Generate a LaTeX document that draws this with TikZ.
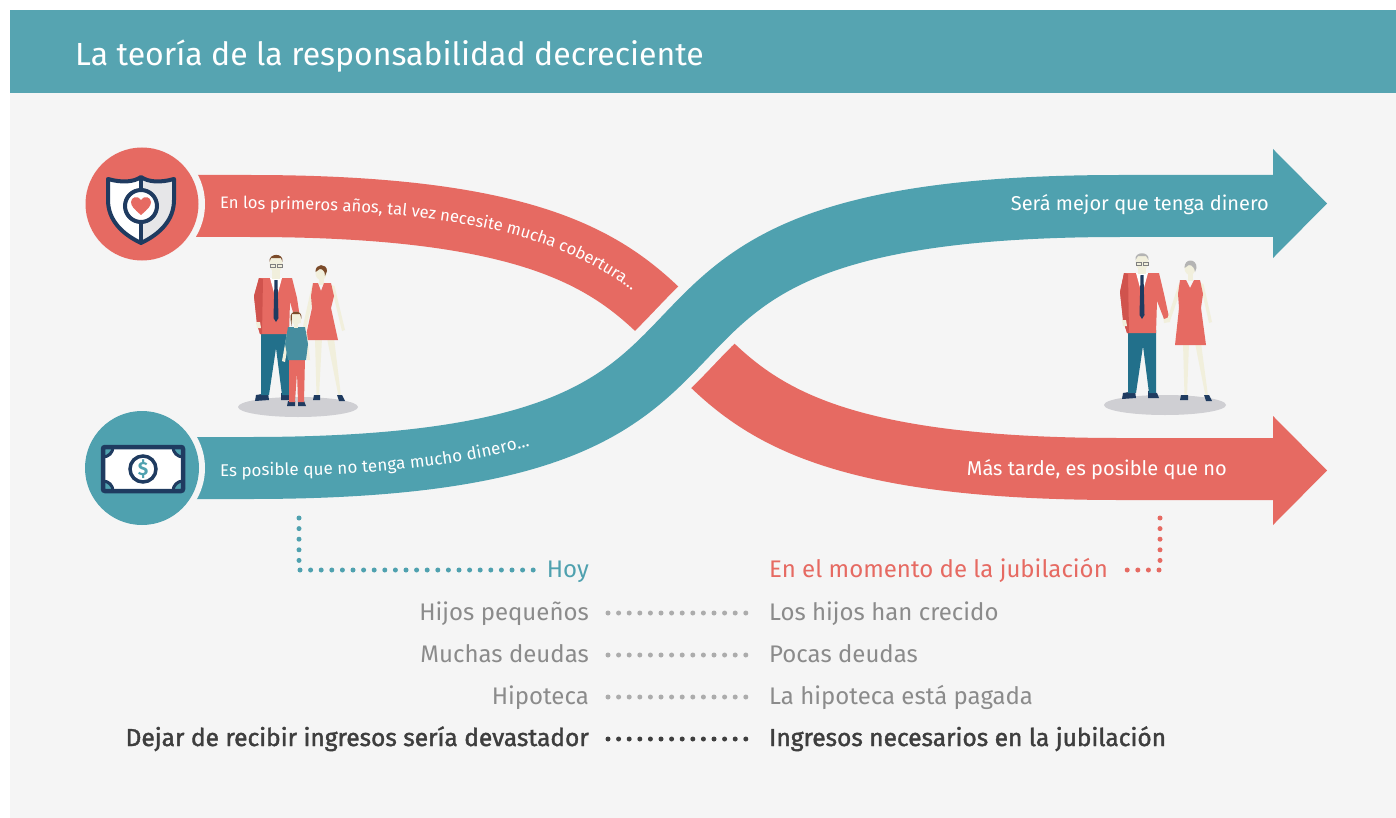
\documentclass[tikz,border=0pt]{standalone}
\usepackage{fontspec}
\setmainfont{Fira Sans}
\newfontfamily\semib[FakeBold=1.6]{Fira Sans}
\usetikzlibrary{decorations.text}
\definecolor{bgc}{HTML}{F5F5F5}
\definecolor{headc}{HTML}{56A4B1}
\definecolor{tealc}{HTML}{4FA1AF}
\definecolor{coralc}{HTML}{E66A62}
\definecolor{navyc}{HTML}{1F3B60}
\definecolor{graytxt}{HTML}{8B8B8B}
\definecolor{darktxt}{HTML}{3E3E3E}
\definecolor{dotgray}{HTML}{ACACAC}
\definecolor{skinc}{HTML}{F1EFDC}
\definecolor{hairc}{HTML}{7B4B2A}
\definecolor{greyhair}{HTML}{B4B4B4}
\definecolor{shadowc}{HTML}{CFCFD3}
\definecolor{trouserc}{HTML}{22708B}
\definecolor{darkcoral}{HTML}{D0534D}
\definecolor{shieldg}{HTML}{E6E6E8}
\tikzset{
  band/.style={line width=62pt},
  dotline/.style={line width=5pt, line cap=round, dash pattern=on 0pt off 10.6pt},
  lefttxt/.style={anchor=base east, inner sep=0pt, text=graytxt, font=\fontsize{24}{28}\selectfont},
  righttxt/.style={anchor=base west, inner sep=0pt, text=graytxt, font=\fontsize{24}{28}\selectfont},
  boldtxt/.style={text=darktxt, font=\fontsize{24.5}{28}\semib},
  arrowtxt/.style={anchor=base east, inner sep=0pt, text=white, font=\fontsize{20}{24}\selectfont},
}
\begin{document}
\begin{tikzpicture}[x=1pt,y=-1pt]
\useasboundingbox (0,0) rectangle (1396,818);
\fill[white] (0,0) rectangle (1396,818);
\fill[bgc] (10,93) rectangle (1396,818);
\fill[headc] (10,10) rectangle (1396,93);
\node[anchor=base west, inner sep=0pt, text=white, font=\fontsize{32}{36}\selectfont] (title) at (75,66) {La teoría de la responsabilidad decreciente};

% red band
\draw[coralc, band] (185,206) -- (250,206) .. controls (870,206) and (500,469) .. (1120,469) -- (1274,469);
\fill[coralc] (1273,416) -- (1327,470.5) -- (1273,525) -- cycle;
% teal band with gap border
\draw[bgc, line width=80pt] (185,468) -- (250,468) .. controls (870,468) and (500,206) .. (1120,206) -- (1274,206);
\draw[tealc, band] (185,468) -- (250,468) .. controls (870,468) and (500,206) .. (1120,206) -- (1274,206);
\fill[tealc] (1273,149) -- (1327,203.5) -- (1273,258) -- cycle;

% curved texts
\path[decorate, decoration={text along path, raise=-3pt, text align={left indent=35pt},
  text={|\fontsize{16.6}{20}\selectfont\color{white}|En los primeros años, tal vez necesite mucha cobertura…}}]
  (185,206) -- (250,206) .. controls (870,206) and (500,469) .. (1120,469);
\path[decorate, decoration={text along path, raise=-8pt, text align={left indent=35pt},
  text={|\fontsize{17}{20}\selectfont\color{white}|Es posible que no tenga mucho dinero…}}]
  (185,468) -- (250,468) .. controls (870,468) and (500,206) .. (1120,206);

\node[arrowtxt] (t1) at (1269,211) {Será mejor que tenga dinero};
\node[arrowtxt] (t2) at (1227,475) {Más tarde, es posible que no};

% circles
\fill[bgc] (142,204) circle (63);
\fill[coralc] (142,204) circle (56.5);
\fill[bgc] (142,468) circle (63);
\fill[tealc] (142,468) circle (57);

% shield icon
\fill[white] (108,179) .. controls (122,183) and (134,182) .. (141,177) -- (141,243) .. controls (122,234) and (108,220) .. (108,200) -- cycle;
\fill[shieldg] (174,179) .. controls (160,183) and (148,182) .. (141,177) -- (141,243) .. controls (160,234) and (174,220) .. (174,200) -- cycle;
\draw[navyc, line width=4pt, line join=round] (108,179) .. controls (122,183) and (134,182) .. (141,177) .. controls (148,182) and (160,183) .. (174,179) -- (174,200) .. controls (174,220) and (160,234) .. (141,243) .. controls (122,234) and (108,220) .. (108,200) -- cycle;
\draw[navyc, line width=3.5pt] (141,177) -- (141,243);
\fill[white] (141,206) circle (16);
\draw[navyc, line width=4pt] (141,206) circle (16);
\fill[coralc] (141,215) .. controls (134,209) and (131,206) .. (131,202) .. controls (131,197) and (138,195) .. (141,200) .. controls (144,195) and (151,197) .. (151,202) .. controls (151,206) and (148,209) .. (141,215) -- cycle;

% money icon
\fill[white] (103,447) rectangle (183,491);
\begin{scope}
\clip (103,447) rectangle (183,491);
\fill[tealc] (103,447) circle (10);
\fill[tealc] (183,447) circle (10);
\fill[tealc] (103,491) circle (10);
\fill[tealc] (183,491) circle (10);
\draw[navyc, line width=3pt] (103,447) circle (10);
\draw[navyc, line width=3pt] (183,447) circle (10);
\draw[navyc, line width=3pt] (103,491) circle (10);
\draw[navyc, line width=3pt] (183,491) circle (10);
\end{scope}
\draw[navyc, line width=4.5pt, rounded corners=2pt] (103,447) rectangle (183,491);
\fill[white] (143,469) circle (13);
\draw[navyc, line width=3.5pt] (143,469) circle (13);
\node[text=tealc, font=\fontsize{19}{20}\selectfont\bfseries, inner sep=0pt] (dollar) at (143,469) {\$};

% family
\fill[shadowc] (298,407) ellipse (60 and 10);
% man
\fill[navyc] (256,395) -- (268,393) -- (269,400) -- (255,401) -- cycle;
\fill[navyc] (281,393) -- (290,395) -- (292,400) -- (281,400) -- cycle;
\fill[trouserc] (261,331) -- (289,331) -- (289,395) -- (282,395) -- (276,348) -- (269,395) -- (261,395) -- cycle;
\fill[coralc] (259,278) -- (292,278) -- (297,298) -- (300,318) -- (295,319) -- (290,302) -- (289,334) -- (260,334) -- (257,324) -- (254,296) -- cycle;
\fill[darkcoral] (259,278) -- (263,279) -- (262,334) -- (260,334) -- (257,324) -- (254,296) -- cycle;
\fill[skinc] (295,317) -- (300,317) -- (301,323) -- (296,323) -- cycle;
\fill[skinc] (256,322) -- (260,322) -- (261,328) -- (257,328) -- cycle;
\fill[white] (270,278) -- (282,278) -- (276,300) -- cycle;
\fill[navyc] (274.5,280) -- (277.5,280) -- (278.5,318) -- (276,322) -- (273.5,318) -- cycle;
\fill[skinc] (272,268) rectangle (280,279);
\fill[skinc] (276,264) ellipse (6.5 and 8);
\fill[hairc] (269.5,262) .. controls (268,253) and (284,252) .. (282.5,262) -- (281,258) -- (271,258) -- cycle;
\draw[gray, line width=0.8pt] (270,264) rectangle (275,267) (277,264) rectangle (282,267);
% woman
\fill[skinc] (315,338) -- (322,338) -- (319,396) -- (316.5,396) -- cycle;
\fill[skinc] (327,338) -- (334,338) -- (341,396) -- (338.5,396) -- cycle;
\fill[navyc] (314,395) -- (320,395) -- (320,400) -- (313,400) -- cycle;
\fill[navyc] (337,395) -- (342,395) -- (345,401) -- (339,401) -- cycle;
\fill[skinc] (312,285) -- (315.5,288) -- (305,334) -- (301.5,333) -- cycle;
\fill[skinc] (331,285) -- (334.5,286) -- (345,330) -- (342,331) -- cycle;
\fill[skinc] (318.5,274) rectangle (323.5,285);
\fill[coralc] (313,283) -- (318,283) -- (321,291) -- (324,283) -- (331,283) -- (334,296) -- (331,308) -- (338,340) -- (305,340) -- (312,308) -- (311,296) -- cycle;
\fill[skinc] (321,273) ellipse (5.5 and 7);
\fill[hairc] (315.5,272) .. controls (315,263) and (327,263) .. (327,271) -- (325,276) .. controls (325,269) and (320,267) .. (317,271) -- cycle;
% child
\fill[navyc] (288,401) -- (295,401) -- (295,406) -- (287,406) -- cycle;
\fill[navyc] (298,401) -- (304,401) -- (306,406) -- (298,406) -- cycle;
\fill[coralc] (289,358) -- (305,358) -- (304,402) -- (298,402) -- (297,372) -- (295,402) -- (289,402) -- cycle;
\fill[skinc] (287,333) -- (290,334) -- (285,362) -- (282,361) -- cycle;
\fill[skinc] (304,333) -- (307,333) -- (310,360) -- (307,360) -- cycle;
\fill[tealc!80!navyc] (288,327) -- (305,327) -- (308,344) -- (306,360) -- (288,360) -- (285,344) -- cycle;
\fill[skinc] (294,320) rectangle (298,328);
\fill[skinc] (296,318) ellipse (5 and 6.5);
\fill[hairc] (290.5,319) .. controls (289,309) and (303,309) .. (301.5,319) -- (300,314) -- (292,314) -- (291.5,326) -- cycle;

% old couple
\fill[shadowc] (1165,405) ellipse (61 and 10);
\fill[navyc] (1123,393) -- (1135,391) -- (1136,398) -- (1122,399) -- cycle;
\fill[navyc] (1148,391) -- (1157,393) -- (1159,398) -- (1148,398) -- cycle;
\fill[trouserc] (1128,330) -- (1156,330) -- (1156,393) -- (1149,393) -- (1143,346) -- (1136,393) -- (1128,393) -- cycle;
\fill[skinc] (1163,316) -- (1169,316) -- (1170,322) -- (1164,323) -- cycle;
\fill[coralc] (1124,273) -- (1159,273) -- (1164,294) -- (1169,317) -- (1164,319) -- (1157,301) -- (1156,333) -- (1127,333) -- (1123,320) -- (1120,292) -- cycle;
\fill[darkcoral] (1124,273) -- (1128,274) -- (1129,333) -- (1127,333) -- (1123,320) -- (1120,292) -- cycle;
\fill[skinc] (1122,320) -- (1126,320) -- (1127,326) -- (1123,326) -- cycle;
\fill[white] (1136,273) -- (1148,273) -- (1142,295) -- cycle;
\fill[navyc] (1140.5,275) -- (1143.5,275) -- (1144.5,315) -- (1142,319) -- (1139.5,315) -- cycle;
\fill[skinc] (1138,263) rectangle (1146,274);
\fill[skinc] (1142,262) ellipse (6.5 and 8);
\fill[greyhair] (1135.5,260) .. controls (1134,251) and (1150,251) .. (1148.5,260) -- (1146,256) -- (1138,256) -- cycle;
\draw[gray, line width=0.8pt] (1136,262) rectangle (1141,265) (1143,262) rectangle (1148,265);
\fill[skinc] (1183,343) -- (1189,343) -- (1187,396) -- (1184.5,396) -- cycle;
\fill[skinc] (1195,343) -- (1201,343) -- (1208,396) -- (1205.5,396) -- cycle;
\fill[navyc] (1181,395) -- (1188,395) -- (1188,400) -- (1180,400) -- cycle;
\fill[navyc] (1204,395) -- (1209,395) -- (1212,401) -- (1206,401) -- cycle;
\fill[skinc] (1179,283) -- (1182.5,285) -- (1170,321) -- (1167,320) -- cycle;
\fill[skinc] (1200,283) -- (1203.5,284) -- (1212,322) -- (1209,323) -- cycle;
\fill[skinc] (1187.5,269) rectangle (1192.5,281);
\fill[coralc] (1180,280) -- (1186,280) -- (1190,288) -- (1194,280) -- (1200,280) -- (1203,294) -- (1201,308) -- (1206,345) -- (1175,345) -- (1179,308) -- (1178,294) -- cycle;
\fill[skinc] (1190,268) ellipse (5.5 and 7);
\fill[greyhair] (1184.5,268) .. controls (1184,258) and (1197,258) .. (1196.5,268) -- (1195,272) .. controls (1194,265) and (1189,263) .. (1186,267) -- cycle;

% bottom table
\coordinate (tA) at (299,518);
\coordinate (tB) at (299,570);
\coordinate (tC) at (535,570);
\draw[dotline, tealc] (tA) -- (tB) -- (tC);
\coordinate (rA) at (1160,518);
\coordinate (rB) at (1160,570);
\coordinate (rC) at (1117,570);
\draw[dotline, coralc] (rA) -- (rB) -- (rC);
\node[lefttxt, text=tealc] (hoy) at (589,577) {Hoy};
\node[righttxt, text=coralc] (jub) at (769,577) {En el momento de la jubilación};

\node[lefttxt] (l1) at (589,620) {Hijos pequeños};
\node[lefttxt] (l2) at (589,662) {Muchas deudas};
\node[lefttxt] (l3) at (589,704) {Hipoteca};
\node[lefttxt, boldtxt] (l4) at (589,746) {Dejar de recibir ingresos sería devastador};
\node[righttxt] (r1) at (769,620) {Los hijos han crecido};
\node[righttxt] (r2) at (769,662) {Pocas deudas};
\node[righttxt] (r3) at (769,704) {La hipoteca está pagada};
\node[righttxt, boldtxt] (r4) at (769,746) {Ingresos necesarios en la jubilación};

\foreach \i/\yy in {1/613,2/655,3/697}{
  \coordinate (a\i) at (608,\yy);
  \coordinate (b\i) at (750,\yy);
  \draw[dotline, dotgray] (a\i) -- (b\i);
}
\coordinate (a4) at (608,739);
\coordinate (b4) at (750,739);
\draw[dotline, darktxt] (a4) -- (b4);
\end{tikzpicture}
\end{document}
